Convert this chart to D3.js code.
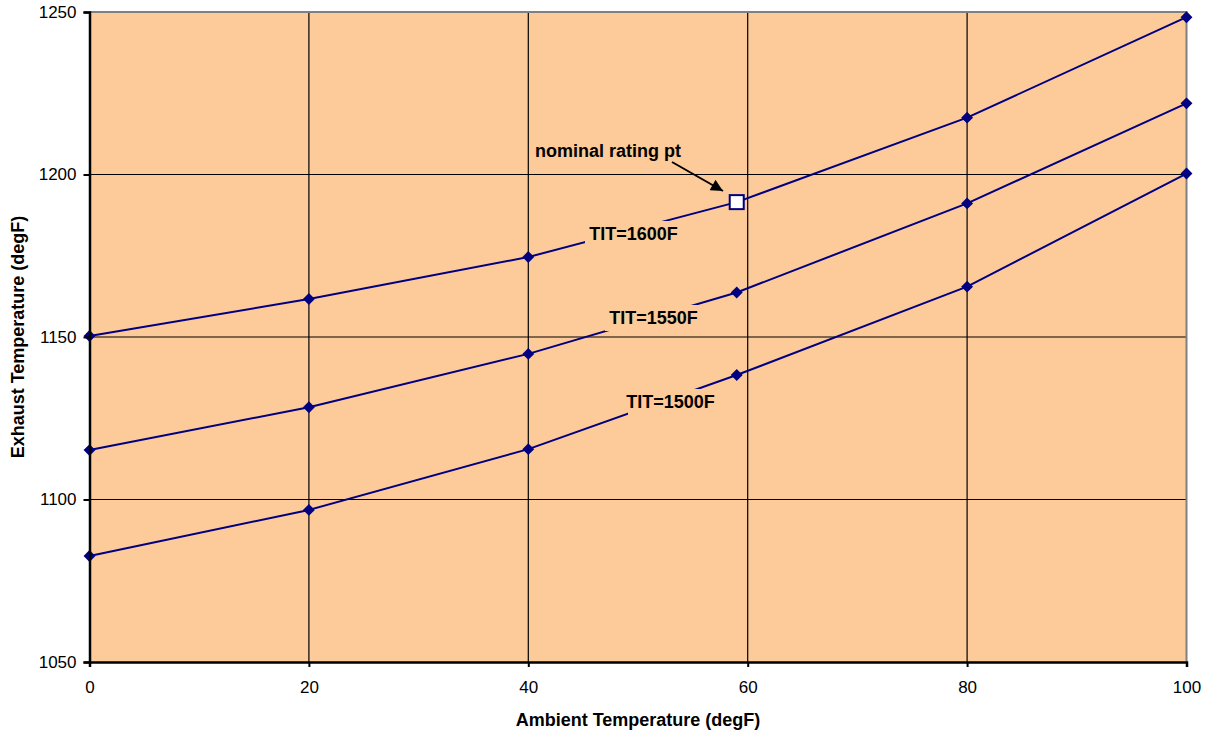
<!DOCTYPE html>
<html>
<head>
<meta charset="UTF-8">
<script src="https://cdn.jsdelivr.net/npm/d3@7"></script>
<style>
  body { margin: 0; background: #fff; }
  text { font-family: "Liberation Sans", Arial, sans-serif; }
</style>
</head>
<body>
<script>
// data
var ambient = [0, 20, 40, 59, 80, 100];
var tit1600 = [1150.3, 1161.7, 1174.6, 1191.5, 1217.5, 1248.4];
var tit1550 = [1115.2, 1128.4, 1144.8, 1163.7, 1191.1, 1221.9];
var tit1500 = [1082.6, 1096.8, 1115.5, 1138.3, 1165.5, 1200.3];
var seriesNames = ["TIT=1600F", "TIT=1550F", "TIT=1500F"];
var nominalPt = { x: 59, y: 1191.5 };
var xTicks = [0, 20, 40, 60, 80, 100];
var yTicks = [1050, 1100, 1150, 1200, 1250];

var W = 1217, H = 738;
var pLeft = 89.5, pRight = 1186.5, pTop = 12, pBottom = 662;

var svg = d3.select("body").append("svg")
    .attr("width", W)
    .attr("height", H);

var x = d3.scaleLinear().domain([0, 100]).range([pLeft, pRight]);
var y = d3.scaleLinear().domain([1050, 1250]).range([pBottom, pTop]);

// plot background
svg.append("rect")
    .attr("x", pLeft).attr("y", pTop)
    .attr("width", pRight - pLeft).attr("height", pBottom - pTop)
    .attr("fill", "#fdcb99");

// grid
svg.append("g").selectAll("line").data(xTicks.slice(1, -1))
    .enter().append("line")
    .attr("x1", function(d) { return x(d); }).attr("x2", function(d) { return x(d); })
    .attr("y1", pTop).attr("y2", pBottom)
    .attr("stroke", "#000").attr("stroke-width", 1.2);
svg.append("g").selectAll("line").data(yTicks.slice(1, -1))
    .enter().append("line")
    .attr("x1", pLeft).attr("x2", pRight)
    .attr("y1", function(d) { return y(d); }).attr("y2", function(d) { return y(d); })
    .attr("stroke", "#000").attr("stroke-width", 1.2);

// top/right frame in grey
svg.append("path")
    .attr("d", "M" + pLeft + "," + pTop + "H" + pRight + "V" + pBottom)
    .attr("fill", "none").attr("stroke", "#808080").attr("stroke-width", 2);

// series
var allSeries = [tit1600, tit1550, tit1500];
var line = d3.line()
    .x(function(d) { return x(d[0]); })
    .y(function(d) { return y(d[1]); });

allSeries.forEach(function(vals, i) {
    var pts = ambient.map(function(a, j) { return [a, vals[j]]; });
    svg.append("path")
        .attr("d", line(pts))
        .attr("fill", "none")
        .attr("stroke", "#000080")
        .attr("stroke-width", 2)
        .attr("stroke-linejoin", "round");
    svg.append("g").selectAll("path")
        .data(pts.filter(function(p) { return !(i === 0 && p[0] === nominalPt.x); }))
        .enter().append("path")
        .attr("d", d3.symbol().type(d3.symbolDiamond2).size(90))
        .attr("transform", function(d) { return "translate(" + x(d[0]) + "," + y(d[1]) + ")"; })
        .attr("fill", "#000080");
});

// nominal rating point
svg.append("rect")
    .attr("x", x(nominalPt.x) - 7).attr("y", y(nominalPt.y) - 7)
    .attr("width", 14).attr("height", 14)
    .attr("fill", "#fff").attr("stroke", "#000080").attr("stroke-width", 2);

// series labels with background boxes covering the line
var labelPos = [
    { x0: 585, x1: 682, cy: 234 },
    { x0: 605, x1: 702, cy: 318 },
    { x0: 628, x1: 705, cy: 402 }
];
seriesNames.forEach(function(name, i) {
    var p = labelPos[i];
    svg.append("rect")
        .attr("x", p.x0).attr("y", p.cy - 13)
        .attr("width", p.x1 - p.x0).attr("height", 26)
        .attr("fill", "#fdcb99");
    svg.append("text")
        .attr("x", (p.x0 + p.x1) / 2 + (i === 2 ? 4 : 0)).attr("y", p.cy)
        .attr("dy", "0.35em")
        .attr("text-anchor", "middle")
        .attr("font-size", 18).attr("font-weight", "bold")
        .attr("fill", "#000")
        .text(name);
});

// annotation
svg.append("defs").append("marker")
    .attr("id", "arr").attr("viewBox", "0 0 10 10")
    .attr("refX", 10).attr("refY", 5)
    .attr("markerWidth", 7).attr("markerHeight", 6)
    .attr("markerUnits", "strokeWidth")
    .attr("orient", "auto")
    .append("path").attr("d", "M0,0L10,5L0,10z").attr("fill", "#000");
svg.append("line")
    .attr("x1", 672).attr("y1", 162)
    .attr("x2", 723).attr("y2", 191)
    .attr("stroke", "#000").attr("stroke-width", 2)
    .attr("marker-end", "url(#arr)");
svg.append("text")
    .attr("x", 535).attr("y", 151).attr("dy", "0.35em")
    .attr("font-size", 18).attr("font-weight", "bold")
    .text("nominal rating pt");

// axes
var xAxis = svg.append("g")
    .attr("transform", "translate(0," + pBottom + ")")
    .call(d3.axisBottom(x).tickValues(xTicks).tickSize(5).tickPadding(14));
var yAxis = svg.append("g")
    .attr("transform", "translate(" + pLeft + ",0)")
    .call(d3.axisLeft(y).tickValues(yTicks).tickSize(6).tickPadding(7).tickFormat(d3.format("d")));
[xAxis, yAxis].forEach(function(a) {
    a.select(".domain").attr("stroke", "#000").attr("stroke-width", 2.5);
    a.selectAll(".tick line").attr("stroke", "#000").attr("stroke-width", 2);
    a.selectAll(".tick text").attr("font-size", 17).attr("fill", "#000")
        .style("font-family", "'Liberation Sans', Arial, sans-serif");
});

// axis titles
svg.append("text")
    .attr("x", (pLeft + pRight) / 2).attr("y", 720).attr("dy", "0.35em")
    .attr("text-anchor", "middle")
    .attr("font-size", 18).attr("font-weight", "bold")
    .text("Ambient Temperature (degF)");
svg.append("text")
    .attr("transform", "translate(18," + ((pTop + pBottom) / 2) + ") rotate(-90)")
    .attr("dy", "0.35em")
    .attr("text-anchor", "middle")
    .attr("font-size", 18).attr("font-weight", "bold")
    .text("Exhaust Temperature (degF)");
</script>
</body>
</html>
